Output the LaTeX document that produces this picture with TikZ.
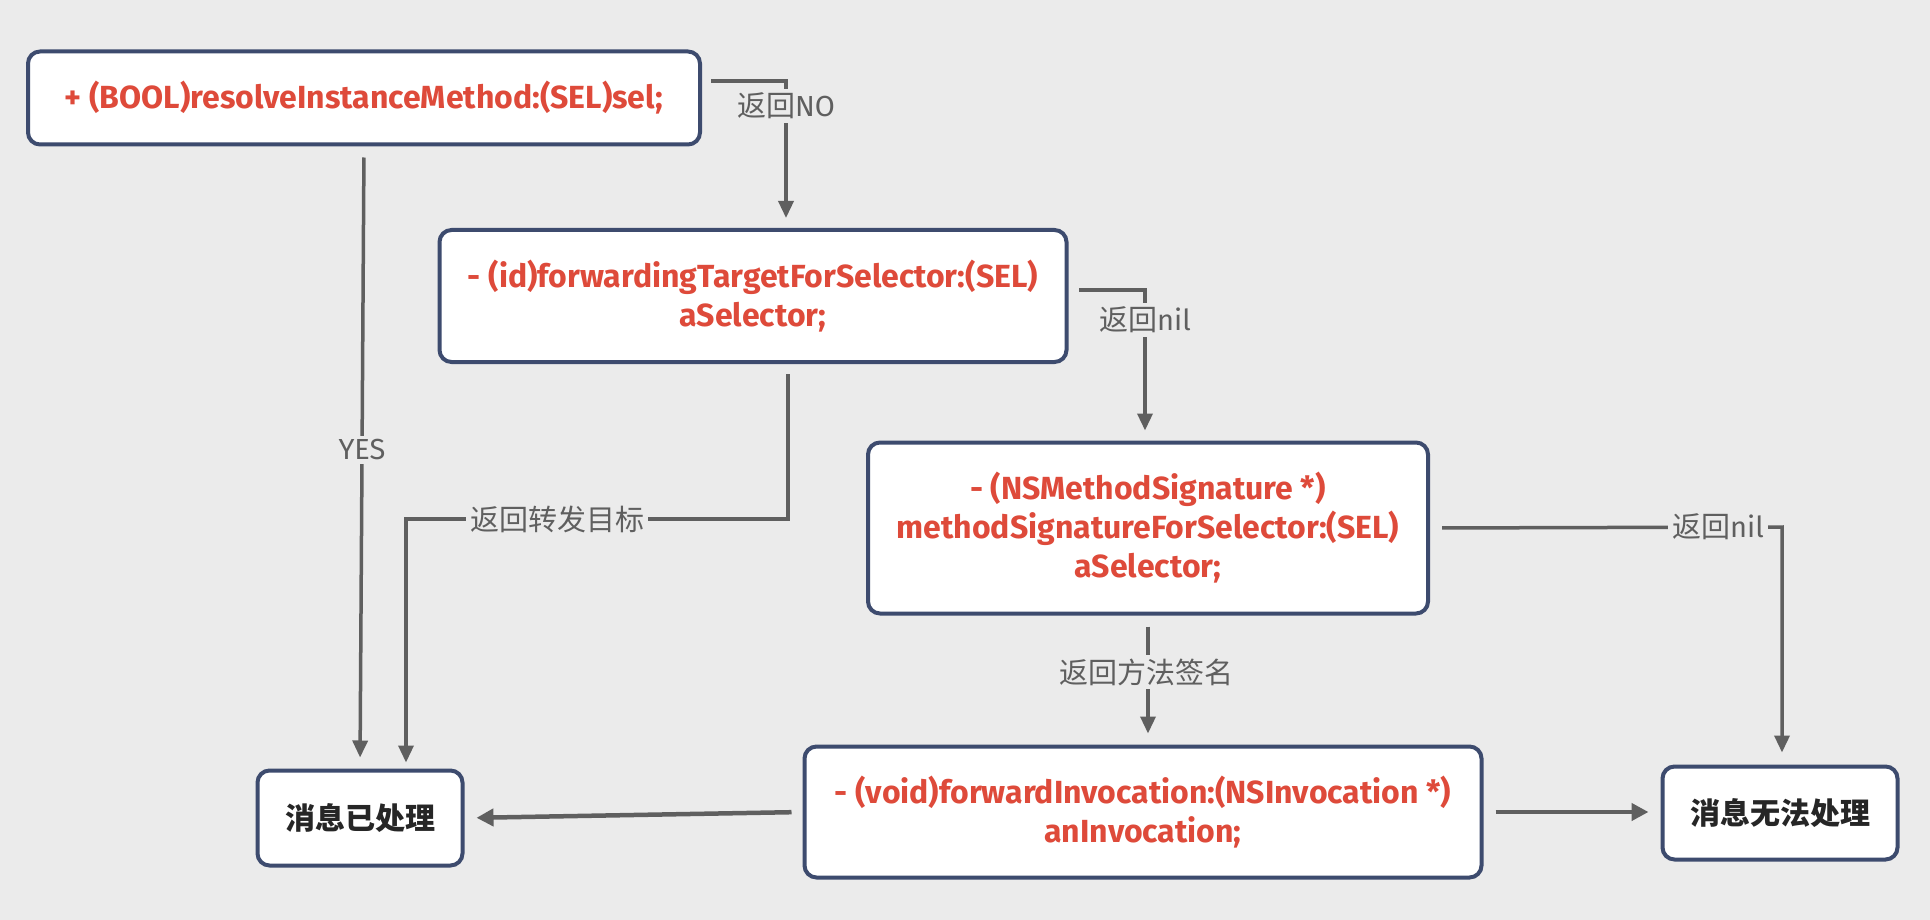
\documentclass[tikz,border=0pt]{standalone}
\usepackage{fontspec}
\setmainfont{Fira Sans}
\newfontfamily\cjk{Noto Sans CJK SC}
\usetikzlibrary{arrows.meta}
\definecolor{bgGray}{RGB}{235,235,235}
\definecolor{boxLine}{RGB}{61,75,110}
\definecolor{codeRed}{RGB}{222,74,58}
\definecolor{lineGray}{RGB}{95,95,95}

\begin{document}
\begin{tikzpicture}[x=1pt,y=-1pt]
    \tikzset{MethodBox/.style={draw=boxLine, line width=4pt, fill=white,
            rounded corners=12pt, align=center, text=codeRed, inner sep=0pt,
            font=\fontsize{32}{39}\selectfont\bfseries},
        ResultBox/.style={MethodBox, text=black!85, font=\fontsize{30}{36}\selectfont\cjk\bfseries},
        Flow/.style={draw=lineGray, line width=3.5pt, -{Triangle[length=17pt,width=15pt]}},
        FlowBold/.style={Flow, line width=4.5pt, -{Triangle[length=17pt,width=17pt]}},
        FlowLabel/.style={fill=bgGray, text=lineGray, inner sep=4pt,
            font=\fontsize{29}{31}\selectfont}}
    \fill[bgGray] (0,0) rectangle (1930,920);
    \node[MethodBox, minimum width=672pt, minimum height=93pt] (resolve) at (364,98)
        {+ (BOOL)resolveInstanceMethod:(SEL)sel;};
    \node[MethodBox, minimum width=627pt, minimum height=132pt] (forward) at (753,296)
        {- (id)forwardingTargetForSelector:(SEL)\\aSelector;};
    \node[MethodBox, minimum width=560pt, minimum height=171pt] (method) at (1148,528)
        {- (NSMethodSignature *)\\methodSignatureForSelector:(SEL)\\aSelector;};
    \node[MethodBox, minimum width=677pt, minimum height=131pt] (invoke) at (1143,812)
        {- (void)forwardInvocation:(NSInvocation *)\\anInvocation;};
    \node[ResultBox, minimum width=235pt, minimum height=93pt] (failed) at (1780,813) {消息无法处理};
    \node[ResultBox, minimum width=205pt, minimum height=95pt] (done) at (360,818) {消息已处理};
    \coordinate (noStart) at (711,81);
    \coordinate (noBend) at (786,81);
    \coordinate (nilStart) at (1079,290);
    \coordinate (nilBend) at (1145,290);
    \coordinate (targetBend) at (788,519);
    \coordinate (targetTurn) at (406,519);
    \coordinate (sigBend) at (1782,527);
    \draw[Flow, shorten >=10pt] (noStart) -- (noBend) -- (noBend |- forward.north);
    \node[FlowLabel] (noLabel) at (786,106) {{\cjk 返回}NO};
    \draw[Flow, shorten >=10pt] (nilStart) -- (nilBend) -- (nilBend |- method.north);
    \node[FlowLabel] (nilLabel) at (1145,320) {{\cjk 返回}nil};
    \draw[Flow, shorten <=11pt, shorten >=11pt] (resolve.south) -- (done.north);
    \node[FlowLabel] (yesLabel) at (362,450) {YES};
    \draw[Flow, shorten <=10pt, shorten >=6pt] (forward.south -| targetBend) -- (targetBend)
        -- (targetTurn) -- (targetTurn |- done.north);
    \node[FlowLabel] (targetLabel) at (557,519) {\cjk 返回转发目标};
    \draw[Flow, shorten <=12pt, shorten >=12pt] (method.east) -- (sigBend) -- (sigBend |- failed.north);
    \node[FlowLabel] (sigNilLabel) at (1718,527) {{\cjk 返回}nil};
    \draw[Flow, shorten <=11pt, shorten >=11pt] (method.south) -- (method.south |- invoke.north);
    \node[FlowLabel] (sigLabel) at (1146,672) {\cjk 返回方法签名};
    \draw[FlowBold, shorten <=12pt, shorten >=12pt] (invoke.east) -- (invoke.east -| failed.west);
    \draw[FlowBold, shorten <=11pt, shorten >=12pt] (invoke.west) -- (done.east);
\end{tikzpicture}
\end{document}
